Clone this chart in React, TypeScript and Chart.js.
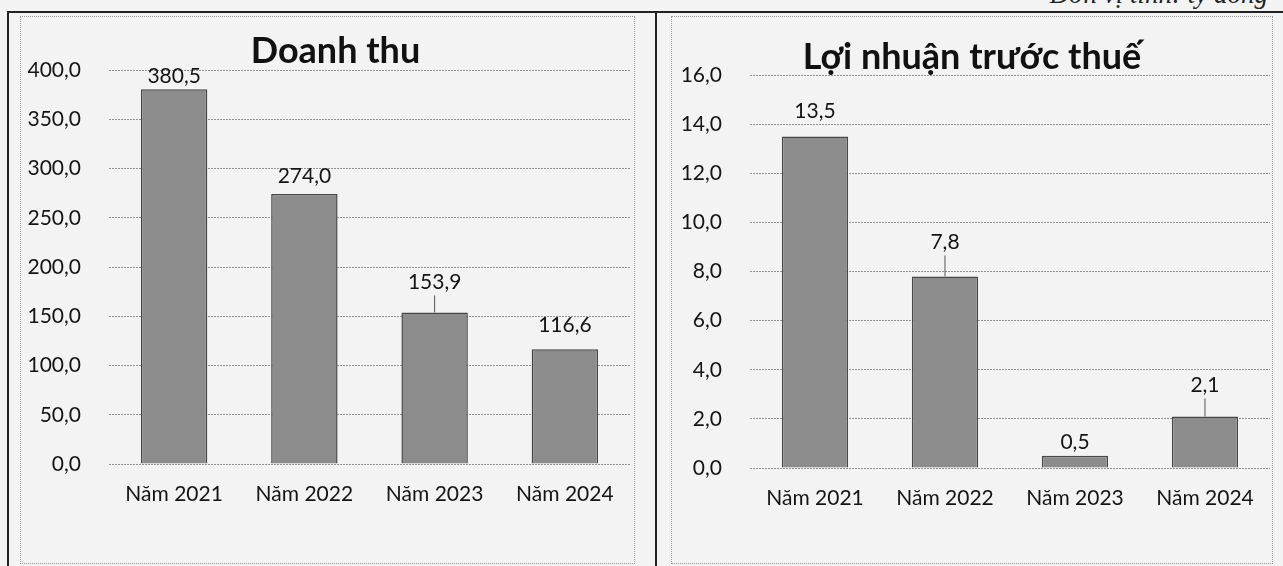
import React, { useEffect, useRef } from "react";
import { Chart, registerables } from "chart.js";

Chart.register(...registerables);

// ---- data ----
const categories = ["Năm 2021", "Năm 2022", "Năm 2023", "Năm 2024"];
const revenueValues = [380.5, 274.0, 153.9, 116.6];
const profitValues = [13.5, 7.8, 0.5, 2.1];
const revenueTitle = "Doanh thu";
const profitTitle = "Lợi nhuận trước thuế";
const revenueAxis = { min: 0, max: 400, step: 50 };
const profitAxis = { min: 0, max: 16, step: 2 };
const unitNote = "Đơn vị tính: tỷ đồng";

// ---- style (label gaps above bars, leader lines) ----
const revenueLabelGaps = [13, 18, 30, 24];
const revenueLeaders = [false, false, true, false];
const profitLabelGaps = [25, 34, 13, 31];
const profitLeaders = [false, true, false, true];

const FONT = "Lato, 'Open Sans', sans-serif";
const TEXT = "#141414";
const BG = "#f3f3f4";

const fmt = (v: number) => v.toFixed(1).replace(".", ",");

const labelPlugin = {
  id: "valueLabels",
  afterDatasetsDraw(chart: any, _args: any, opts: any) {
    const ctx = chart.ctx;
    const meta = chart.getDatasetMeta(0);
    const data = chart.data.datasets[0].data as number[];
    ctx.save();
    ctx.font = `21px ${FONT}`;
    ctx.fillStyle = TEXT;
    ctx.textAlign = "center";
    ctx.textBaseline = "middle";
    meta.data.forEach((bar: any, i: number) => {
      const gap = opts.gaps[i];
      const y = bar.y - gap;
      ctx.fillText(fmt(data[i]), bar.x, y);
      if (opts.leaders[i]) {
        ctx.strokeStyle = "#555";
        ctx.lineWidth = 1;
        ctx.beginPath();
        ctx.moveTo(bar.x, bar.y);
        ctx.lineTo(bar.x, y + 13);
        ctx.stroke();
      }
    });
    ctx.restore();
  },
};

const titlePlugin = {
  id: "fixedTitle",
  afterDraw(chart: any, _args: any, opts: any) {
    const ctx = chart.ctx;
    ctx.save();
    ctx.font = `bold 36px ${FONT}`;
    ctx.fillStyle = "#111";
    ctx.textAlign = "center";
    ctx.textBaseline = "alphabetic";
    ctx.fillText(opts.text, chart.width / 2 + (opts.dx || 0), opts.baseline);
    ctx.restore();
  },
};

type PanelProps = {
  left: number;
  top: number;
  width: number;
  height: number;
  values: number[];
  axis: { min: number; max: number; step: number };
  title: string;
  titleBaseline: number;
  titleDx: number;
  gaps: number[];
  leaders: boolean[];
  yWidth: number;
  pad: { top: number; right: number; bottom: number; left: number };
  xHeight: number;
};

function ChartPanel(p: PanelProps) {
  const ref = useRef<HTMLCanvasElement | null>(null);
  useEffect(() => {
    if (!ref.current) return;
    const chart = new Chart(ref.current, {
      type: "bar",
      data: {
        labels: categories,
        datasets: [
          {
            data: p.values,
            backgroundColor: "#8c8c8c",
            borderColor: "#474747",
            borderWidth: 1.5,
            barPercentage: 0.51,
            categoryPercentage: 1,
          },
        ],
      },
      options: {
        animation: false,
        responsive: false,
        maintainAspectRatio: false,
        layout: { padding: p.pad },
        plugins: {
          legend: { display: false },
          tooltip: { enabled: false },
          title: { display: false },
          valueLabels: { gaps: p.gaps, leaders: p.leaders },
          fixedTitle: { text: p.title, baseline: p.titleBaseline, dx: p.titleDx },
        } as any,
        scales: {
          x: {
            grid: { display: false, drawTicks: false },
            border: { display: false },
            ticks: { color: TEXT, font: { family: FONT, size: 21 }, padding: 18, maxRotation: 0 },
            afterFit: (s: any) => {
              s.height = p.xHeight;
            },
          },
          y: {
            min: p.axis.min,
            max: p.axis.max,
            grid: { color: "#929292", lineWidth: 1, drawTicks: false },
            border: { display: false, dash: [2, 1] },
            ticks: {
              stepSize: p.axis.step,
              color: TEXT,
              font: { family: FONT, size: 21 },
              padding: 28,
              callback: (v: any) => fmt(Number(v)),
            },
            afterFit: (s: any) => {
              s.width = p.yWidth;
            },
          },
        },
      },
      plugins: [labelPlugin, titlePlugin],
    });
    return () => chart.destroy();
  }, []);
  return (
    <div
      style={{
        position: "absolute",
        left: p.left,
        top: p.top,
        width: p.width,
        height: p.height,
        border: "1px dotted #9a9a9a",
        boxSizing: "border-box",
      }}
    >
      <canvas ref={ref} width={p.width - 2} height={p.height - 2} style={{ display: "block" }} />
    </div>
  );
}

export default function App() {
  return (
    <div
      style={{
        position: "fixed",
        left: 0,
        top: 0,
        width: 1283,
        height: 566,
        background: BG,
        overflow: "hidden",
      }}
    >
      <div
        style={{
          position: "absolute",
          right: 15,
          top: -21,
          fontFamily: "'Liberation Serif', serif",
          fontStyle: "italic",
          fontSize: 27,
          color: "#222",
          whiteSpace: "nowrap",
        }}
      >
        {unitNote}
      </div>
      {/* table frame */}
      <div style={{ position: "absolute", left: 7, top: 11, width: 1290, height: 2, background: "#222" }} />
      <div style={{ position: "absolute", left: 7, top: 11, width: 2, height: 570, background: "#222" }} />
      <div style={{ position: "absolute", left: 655, top: 11, width: 2, height: 570, background: "#222" }} />
      <ChartPanel
        left={20}
        top={16}
        width={615}
        height={548}
        values={revenueValues}
        axis={revenueAxis}
        title={revenueTitle}
        titleBaseline={46}
        titleDx={8}
        gaps={revenueLabelGaps}
        leaders={revenueLeaders}
        yWidth={88}
        pad={{ top: 53, right: 4, bottom: 0, left: 0 }}
        xHeight={99}
      />
      <ChartPanel
        left={671}
        top={16}
        width={602}
        height={548}
        values={profitValues}
        axis={profitAxis}
        title={profitTitle}
        titleBaseline={52}
        titleDx={0}
        gaps={profitLabelGaps}
        leaders={profitLeaders}
        yWidth={78}
        pad={{ top: 58, right: 2, bottom: 0, left: 0 }}
        xHeight={95}
      />
    </div>
  );
}
